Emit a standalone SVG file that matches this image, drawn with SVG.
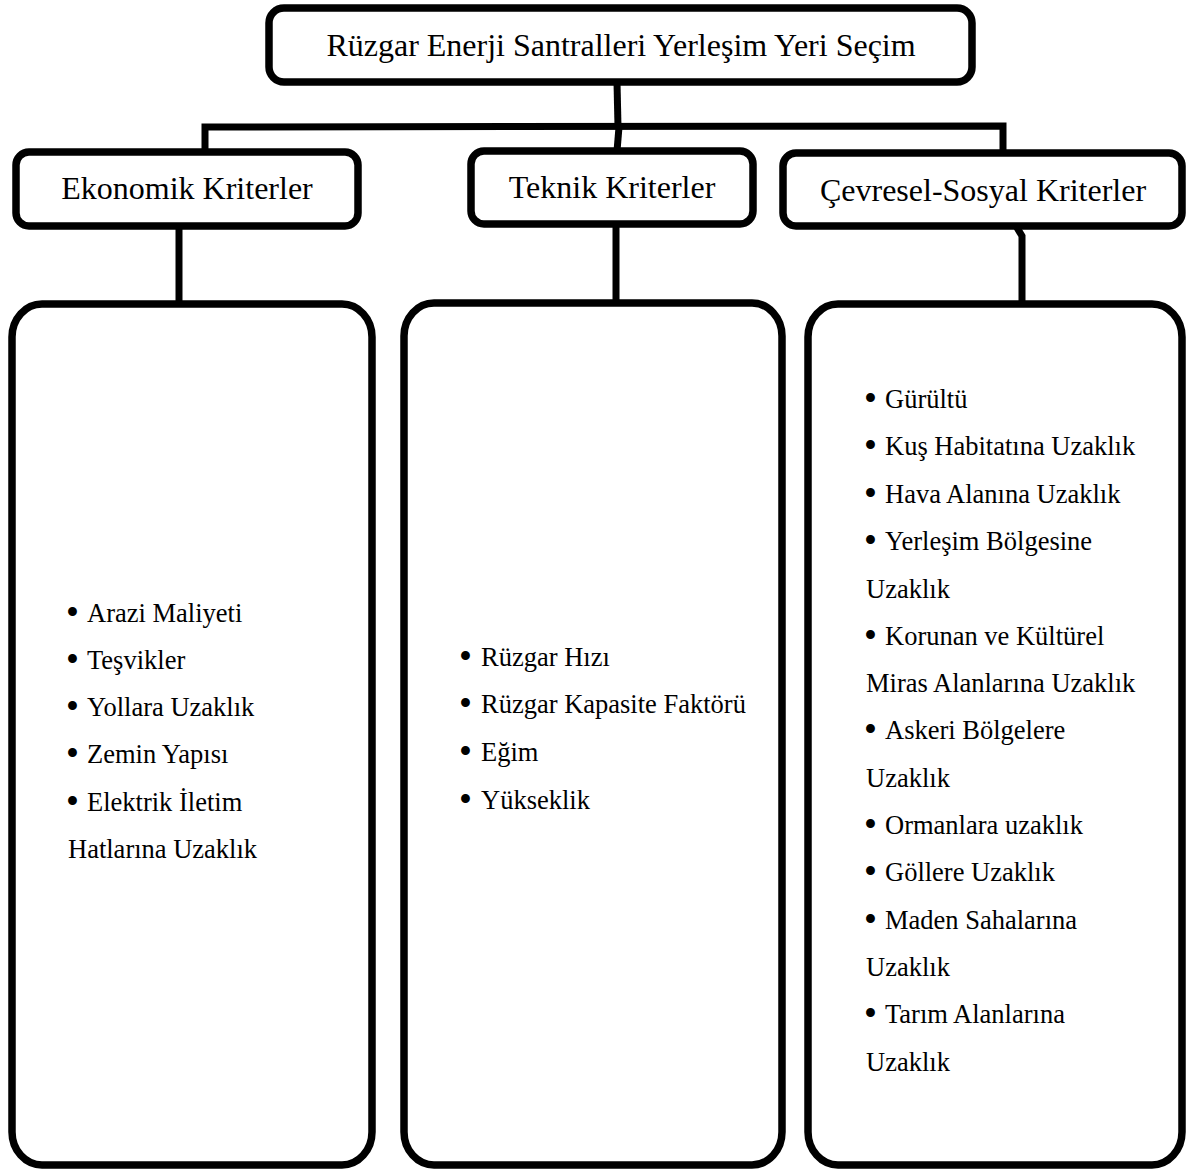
<svg xmlns="http://www.w3.org/2000/svg" width="1187" height="1169" viewBox="0 0 1187 1169">
<style>
.box{fill:#fff;stroke:#000;stroke-width:7.5}
.con{fill:none;stroke:#000;stroke-width:7;stroke-linejoin:miter}
.h{font-family:"Liberation Serif","Times New Roman",serif;font-size:32px;fill:#000;text-anchor:middle}
.t{font-family:"Liberation Serif","Times New Roman",serif;font-size:26.5px;fill:#000}
.b{font-family:"Liberation Serif","Times New Roman",serif;font-size:37px;fill:#000}
</style>
<rect width="1187" height="1169" fill="#fff"/>
<g id="connectors">
<path class="con" d="M617 82 L618 127"/>
<path class="con" d="M205 152 L205 127 L1003 126 L1003 153"/>
<path class="con" d="M619 127 L617 151"/>
<path class="con" d="M179 226 L179 304"/>
<path class="con" d="M616 224 L616 303"/>
<path class="con" d="M1016 226 L1022 236 L1022 304"/>
</g>
<g id="root">
<rect class="box" x="269" y="8" width="703" height="74" rx="15" ry="15"/>
<text class="h" x="621" y="56">Rüzgar Enerji Santralleri Yerleşim Yeri Seçim</text>
</g>
<g id="ekonomik">
<rect class="box" x="16" y="152" width="342" height="74" rx="13" ry="13"/>
<text class="h" x="187" y="199">Ekonomik Kriterler</text>
</g>
<g id="teknik">
<rect class="box" x="471" y="151" width="282" height="73" rx="13" ry="13"/>
<text class="h" x="612" y="198">Teknik Kriterler</text>
</g>
<g id="cevresel">
<rect class="box" x="783" y="153" width="399" height="73" rx="13" ry="13"/>
<text class="h" x="983" y="201">Çevresel-Sosyal Kriterler</text>
</g>
<g id="ekonomik-list">
<rect class="box" x="12" y="304" width="360" height="861" rx="30" ry="33"/>
<text class="b" x="66" y="625">•</text><text class="t" x="87" y="622">Arazi Maliyeti</text>
<text class="b" x="66" y="672">•</text><text class="t" x="87" y="669">Teşvikler</text>
<text class="b" x="66" y="719">•</text><text class="t" x="87" y="716">Yollara Uzaklık</text>
<text class="b" x="66" y="766">•</text><text class="t" x="87" y="763">Zemin Yapısı</text>
<text class="b" x="66" y="814">•</text><text class="t" x="87" y="811">Elektrik İletim</text>
<text class="t" x="68" y="858">Hatlarına Uzaklık</text>
</g>
<g id="teknik-list">
<rect class="box" x="404" y="303" width="378" height="862" rx="30" ry="33"/>
<text class="b" x="459" y="669">•</text><text class="t" x="481" y="666">Rüzgar Hızı</text>
<text class="b" x="459" y="716">•</text><text class="t" x="481" y="713">Rüzgar Kapasite Faktörü</text>
<text class="b" x="459" y="764">•</text><text class="t" x="481" y="761">Eğim</text>
<text class="b" x="459" y="812">•</text><text class="t" x="481" y="809">Yükseklik</text>
</g>
<g id="cevresel-list">
<rect class="box" x="808" y="304" width="374" height="861" rx="30" ry="33"/>
<text class="b" x="864" y="411">•</text><text class="t" x="885" y="408">Gürültü</text>
<text class="b" x="864" y="458">•</text><text class="t" x="885" y="455">Kuş Habitatına Uzaklık</text>
<text class="b" x="864" y="506">•</text><text class="t" x="885" y="503">Hava Alanına Uzaklık</text>
<text class="b" x="864" y="553">•</text><text class="t" x="885" y="550">Yerleşim Bölgesine</text>
<text class="t" x="866" y="598">Uzaklık</text>
<text class="b" x="864" y="648">•</text><text class="t" x="885" y="645">Korunan ve Kültürel</text>
<text class="t" x="866" y="692">Miras Alanlarına Uzaklık</text>
<text class="b" x="864" y="742">•</text><text class="t" x="885" y="739">Askeri Bölgelere</text>
<text class="t" x="866" y="787">Uzaklık</text>
<text class="b" x="864" y="837">•</text><text class="t" x="885" y="834">Ormanlara uzaklık</text>
<text class="b" x="864" y="884">•</text><text class="t" x="885" y="881">Göllere Uzaklık</text>
<text class="b" x="864" y="932">•</text><text class="t" x="885" y="929">Maden Sahalarına</text>
<text class="t" x="866" y="976">Uzaklık</text>
<text class="b" x="864" y="1026">•</text><text class="t" x="885" y="1023">Tarım Alanlarına</text>
<text class="t" x="866" y="1071">Uzaklık</text>
</g>
</svg>
